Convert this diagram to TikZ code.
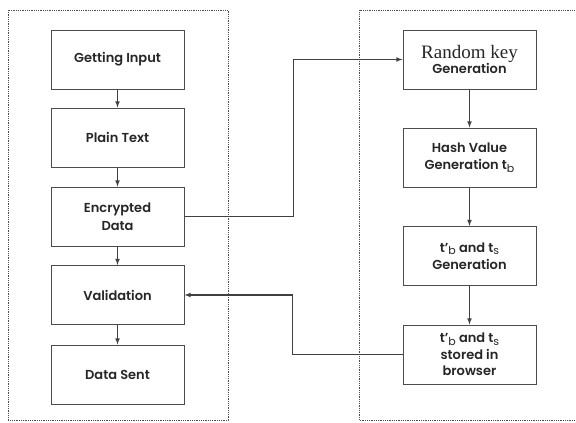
\documentclass[tikz,border=0pt]{standalone}
\usepackage{fontspec}
\setsansfont{Poppins}[BoldFont={Poppins SemiBold}]
\newfontfamily\serifkey{Liberation Serif}
\usepackage{tikz}

\newcommand{\sub}[1]{\raisebox{-0.4ex}{\fontsize{11}{11}\selectfont\mdseries #1}}

\begin{document}
\begin{tikzpicture}[x=1pt,y=-1pt,
        stepbox/.style={draw=black!70,line width=1pt,minimum width=133pt,minimum height=59pt,
            align=center,inner sep=1pt,font=\sffamily\bfseries\fontsize{13}{17.5}\selectfont,text=black!85},
        flow/.style={draw=black!75,line width=1.1pt,-latex}]
            \useasboundingbox (0,0) rectangle (576,423);
            % the two dashed frames
            \draw[black!70,densely dotted,line width=0.8pt] (8,10) rectangle (228,420);
            \draw[black!70,densely dotted,line width=0.8pt] (580,10) -- (359,10) -- (359,420) -- (580,420);
            % left column
            \node[stepbox] (input) at (117.5,59.5) {Getting Input};
            \node[stepbox] (plain) at (117.5,137.5) {Plain Text};
            \node[stepbox] (encr) at (117.5,216.5) {Encrypted\\Data};
            \node[stepbox] (valid) at (117.5,295) {Validation};
            \node[stepbox] (sent) at (117.5,374.5) {Data Sent};
            % right column
            \node[stepbox] (rkey) at (469.5,59.5) {{\serifkey\mdseries\fontsize{19}{20}\selectfont Random key}\\[-3pt]Generation};
            \node[stepbox] (hash) at (469.5,157.5) {Hash Value\\Generation t\sub{b}};
            \node[stepbox] (tgen) at (469.5,256) {t’\sub{b} and t\sub{s}\\Generation};
            \node[stepbox] (store) at (469.5,354.5) {t’\sub{b} and t\sub{s}\\[-1pt]stored in\\[-1pt]browser};
            \foreach \a/\b in {input/plain, plain/encr, encr/valid, valid/sent, rkey/hash, hash/tgen, tgen/store}
                \draw[flow] (\a) -- (\b);
            \draw[flow] (encr.east) -- ++(109,0) |- (rkey.west);
            \draw[flow] (store.west) -- ++(-110,0) |- (valid.east);
        \end{tikzpicture}
\end{document}
